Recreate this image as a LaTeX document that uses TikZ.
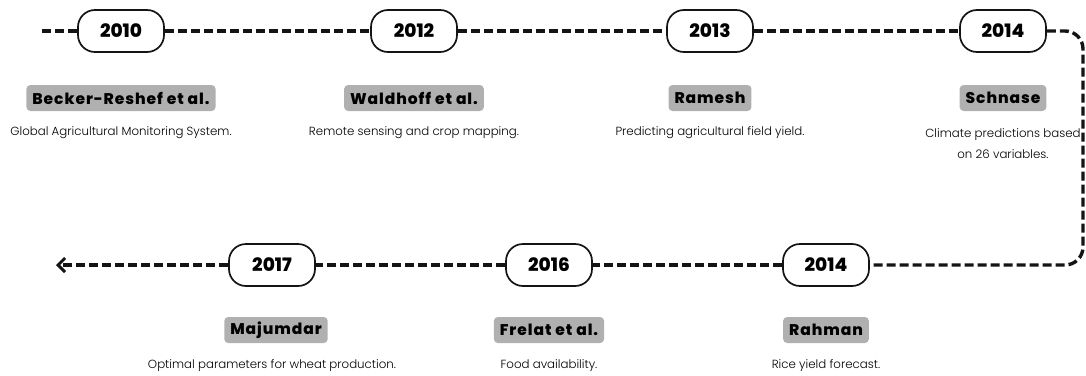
\documentclass[tikz,border=0pt]{standalone}
\usepackage{fontspec}
\setmainfont{Poppins}[BoldFont={Poppins ExtraBold}]
\newfontfamily\descfont{Poppins Light}
\newfontfamily\authorfont{Poppins ExtraBold}[LetterSpace=6]
\usetikzlibrary{arrows.meta}
\definecolor{labelgrey}{RGB}{176,176,176}
\definecolor{inkblack}{RGB}{20,20,20}
\begin{document}
\begin{tikzpicture}[x=1pt,y=-1pt,
  yearpill/.style={draw=inkblack, line width=1.7pt, rounded corners=17pt,
    minimum width=86pt, minimum height=42pt, inner sep=0pt, fill=white,
    font=\bfseries\fontsize{18.5}{20}\selectfont},
  author/.style={fill=labelgrey, rounded corners=4pt, inner xsep=6pt,
    minimum height=26pt, inner ysep=0pt, font=\authorfont\fontsize{15.5}{18}\selectfont},
  desc/.style={align=center, inner sep=0pt, font=\descfont\fontsize{11.8}{21}\selectfont},
  timeline/.style={draw=inkblack, line width=3.4pt, dash pattern=on 9pt off 4pt}]
\useasboundingbox (0,0) rectangle (1086,375);

% top row of years
\node[yearpill] (y2010) at (121,31) {2010};
\node[yearpill] (y2012) at (414,31) {2012};
\node[yearpill] (y2013) at (710,31) {2013};
\node[yearpill] (y2014a) at (1003,31) {2014};

% bottom row of years
\node[yearpill] (y2014b) at (826,265) {2014};
\node[yearpill] (y2016) at (549,265) {2016};
\node[yearpill] (y2017) at (272,265) {2017};

% authors
\node[author] (a1) at (121,98) {Becker-Reshef et al.};
\node[author] (a2) at (414,98) {Waldhoff et al.};
\node[author] (a3) at (710,98) {Ramesh};
\node[author] (a4) at (1003,98) {Schnase};
\node[author] (a5) at (826,330) {Rahman};
\node[author] (a6) at (549,330) {Frelat et al.};
\node[author] (a7) at (276,330) {Majumdar};

% descriptions
\node[desc] (d1) at (121,133) {Global Agricultural Monitoring System.};
\node[desc] (d2) at (414,133) {Remote sensing and crop mapping.};
\node[desc] (d3) at (710,133) {Predicting agricultural field yield.};
\node[desc] (d4) at (1003,144) {Climate predictions based\\on 26 variables.};
\node[desc] (d5) at (826,366) {Rice yield forecast.};
\node[desc] (d6) at (549,366) {Food availability.};
\node[desc] (d7) at (272,366) {Optimal parameters for wheat production.};

% timeline path
\coordinate (start) at (42,31);
\coordinate (turnTop) at (1083,31);
\coordinate (turnBot) at (1083,265);
\coordinate (finish) at (56,265);

\path[timeline] (start) -- (y2010.west);
\path[timeline] (y2010.east) -- (y2012.west);
\path[timeline] (y2012.east) -- (y2013.west);
\path[timeline] (y2013.east) -- (y2014a.west);
\path[timeline, rounded corners=18pt] (y2014a.east) -- (turnTop) -- (turnBot) -- (y2014b.east);
\path[timeline] (y2014b.west) -- (y2016.east);
\path[timeline] (y2016.west) -- (y2017.east);
\path[timeline, -{Straight Barb[length=7pt,width=14pt,line width=3pt]}] (y2017.west) -- (finish);
\end{tikzpicture}
\end{document}
